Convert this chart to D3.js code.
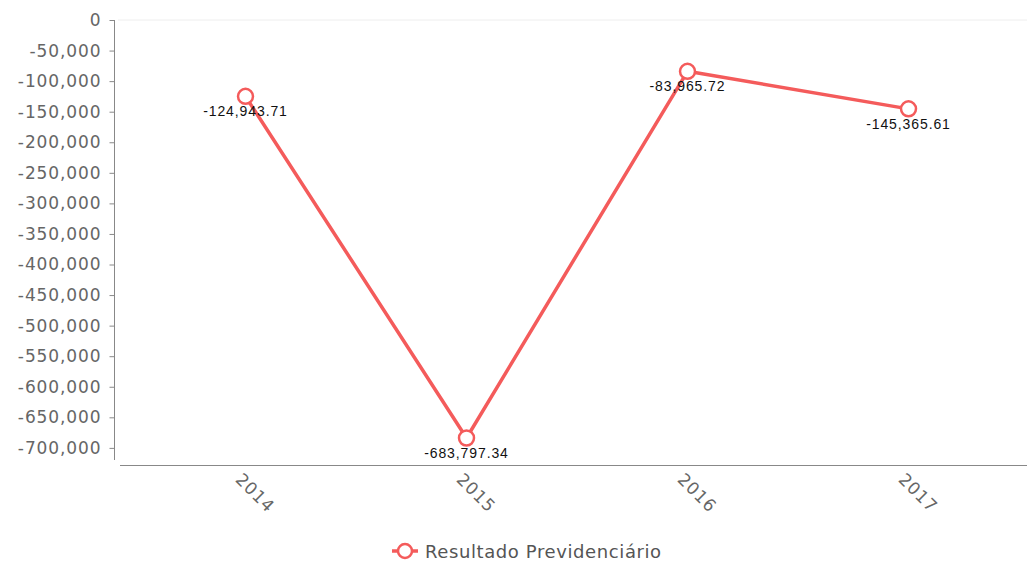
<!DOCTYPE html>
<html>
<head>
<meta charset="utf-8">
<script src="https://cdn.jsdelivr.net/npm/d3@7"></script>
<style>
  body { margin: 0; background: #fff; }
  svg { display: block; }
</style>
</head>
<body>
<div id="chart"></div>
<script>
// dados do gráfico
const years = ['2014', '2015', '2016', '2017'];
const resultado = [-124943.71, -683797.34, -83965.72, -145365.61];
const yTicks = [0, -50000, -100000, -150000, -200000, -250000, -300000, -350000,
  -400000, -450000, -500000, -550000, -600000, -650000, -700000];
const seriesName = 'Resultado Previdenciário';

const width = 1027, height = 562;
const red = '#f45b5b';

const svg = d3.select('#chart').append('svg')
  .attr('width', width)
  .attr('height', height);

// escalas
const x = d3.scaleBand().domain(years).range([135, 1019]);
const y = d3.scaleLinear().domain([-728000, 0]).range([465, 20]);

// linha do zero no topo
svg.append('line')
  .attr('x1', 118).attr('x2', width)
  .attr('y1', y(0)).attr('y2', y(0))
  .attr('stroke', '#eee').attr('stroke-width', 1);

// hífen normal em vez do sinal de menos unicode
const hyph = f => d => f(d).replace('\u2212', '-');

// eixo y
const fmt = hyph(d3.format(','));
const yAxisG = svg.append('g')
  .attr('transform', 'translate(114.5,0)')
  .call(d3.axisLeft(y).tickValues(yTicks).tickFormat(fmt).tickSize(5).tickPadding(8));
yAxisG.select('.domain').attr('stroke', '#888').attr('d', 'M0,20V460');
yAxisG.selectAll('.tick line').attr('stroke', '#888');
yAxisG.selectAll('.tick text')
  .attr('fill', '#666')
  .style('font-family', 'DejaVu Sans, Verdana, sans-serif')
  .style('font-size', '17px')
  .style('letter-spacing', '0.9px');

// eixo x
const xAxisG = svg.append('g')
  .attr('transform', 'translate(0,465.5)')
  .call(d3.axisBottom(x).tickSize(0).tickPadding(0));
xAxisG.select('.domain').attr('stroke', '#888').attr('d', 'M120,0H' + width);
xAxisG.selectAll('.tick text')
  .attr('fill', '#666')
  .attr('text-anchor', 'start')
  .attr('dy', null)
  .attr('transform', 'translate(-11,15) rotate(45)')
  .style('font-family', 'DejaVu Sans, Verdana, sans-serif')
  .style('font-size', '17px')
  .style('letter-spacing', '0.8px');

// série
const pts = years.map((yr, i) => ({ year: yr, value: resultado[i] }));
const cx = d => x(d.year) + x.bandwidth() / 2;

svg.append('path')
  .datum(pts)
  .attr('fill', 'none')
  .attr('stroke', red)
  .attr('stroke-width', 3.5)
  .attr('stroke-linejoin', 'round')
  .attr('d', d3.line().x(cx).y(d => y(d.value)));

svg.selectAll('circle.pt')
  .data(pts)
  .join('circle')
  .attr('class', 'pt')
  .attr('cx', cx)
  .attr('cy', d => y(d.value))
  .attr('r', 7.5)
  .attr('fill', '#fff')
  .attr('stroke', red)
  .attr('stroke-width', 2.5);

// rótulos de valores
const lblFmt = hyph(d3.format(',.2f'));
svg.selectAll('text.lbl')
  .data(pts)
  .join('text')
  .attr('class', 'lbl')
  .attr('x', cx)
  .attr('y', d => y(d.value) + 20)
  .attr('text-anchor', 'middle')
  .attr('fill', '#111')
  .style('font-family', 'Liberation Sans, Arial, sans-serif')
  .style('font-size', '14px')
  .style('letter-spacing', '0.9px')
  .text(d => lblFmt(d.value));

// legenda
const lg = svg.append('g').attr('transform', 'translate(405,551)');
lg.append('line')
  .attr('x1', -13).attr('x2', 13)
  .attr('stroke', red).attr('stroke-width', 3.5);
lg.append('circle')
  .attr('r', 7)
  .attr('fill', '#fff')
  .attr('stroke', red)
  .attr('stroke-width', 2.5);
lg.append('text')
  .attr('x', 20)
  .attr('y', 6.5)
  .attr('fill', '#555')
  .style('font-family', 'DejaVu Sans, Verdana, sans-serif')
  .style('font-size', '18px')
  .style('letter-spacing', '0.6px')
  .text(seriesName);
</script>
</body>
</html>
